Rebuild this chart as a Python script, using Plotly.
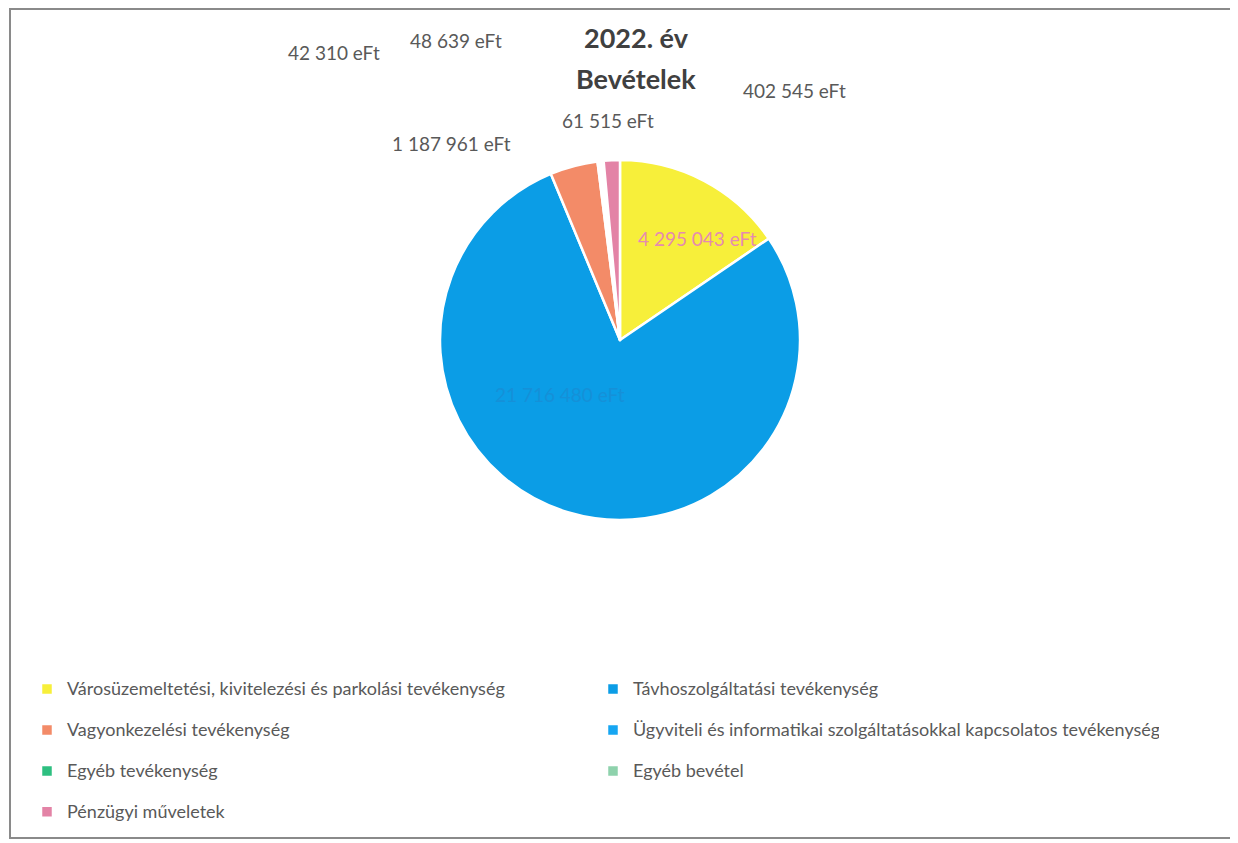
import plotly.graph_objects as go

# ---- data ----
categories = [
    "Városüzemeltetési, kivitelezési és parkolási tevékenység",
    "Távhoszolgáltatási tevékenység",
    "Vagyonkezelési tevékenység",
    "Ügyviteli és informatikai szolgáltatásokkal kapcsolatos tevékenység",
    "Egyéb tevékenység",
    "Egyéb bevétel",
    "Pénzügyi műveletek",
]
values_eft = [4295043, 21716480, 1187961, 42310, 48639, 61515, 402545]
colors = ["#F7EF3A", "#0B9DE6", "#F38B68", "#16A6F2", "#2EBF80", "#8ED2AC", "#E383A6"]
label_colors = ["#E68AB0", "#1590D8", "#595959", "#595959", "#595959", "#595959", "#595959"]
# label anchor positions (px in the reference page)
label_pos = [(697, 238), (560, 394), (451, 143), (334, 53), (456, 40), (608, 120), (794, 90)]

# page has an 8px body margin: the figure starts at (8, 8) in the window
OFF = 8
W, H = 1230, 855
FONT = "Lato, Open Sans, sans-serif"

def fx(px):
    return (px - OFF) / W

def fy(py):
    return 1 - (py - OFF) / H

def fmt(v):
    return f"{v:,}".replace(",", " ") + " eFt"

fig = go.Figure()

# pie geometry (reference page px): centre (620,340) r=180
cx, cy, r = 620, 340, 180
fig.add_trace(go.Pie(
    labels=[f'<span style="font-size:18px">{c}</span><br> ' for c in categories],
    values=values_eft,
    sort=False,
    direction="clockwise",
    rotation=0,
    marker=dict(colors=colors, line=dict(color="white", width=2.5)),
    textinfo="none",
    hoverinfo="label+value",
    domain=dict(x=[fx(cx - r), fx(cx + r)], y=[fy(cy + r), fy(cy - r)]),
    showlegend=True,
))

annotations = []
for v, col, (px, py) in zip(values_eft, label_colors, label_pos):
    annotations.append(dict(
        x=fx(px), y=fy(py), xref="paper", yref="paper",
        text=fmt(v), showarrow=False, xanchor="center", yanchor="middle",
        font=dict(family=FONT, size=19, color=col),
    ))

# title (two lines)
for txt, py in (("2022. év", 37), ("Bevételek", 78)):
    annotations.append(dict(
        x=fx(636), y=fy(py), xref="paper", yref="paper",
        text=f"<b>{txt}</b>", showarrow=False,
        xanchor="center", yanchor="middle",
        font=dict(family=FONT, size=27, color="#404040"),
    ))

fig.update_layout(
    width=W, height=H,
    margin=dict(l=0, r=0, t=0, b=0),
    paper_bgcolor="white",
    plot_bgcolor="white",
    annotations=annotations,
    legend=dict(
        orientation="h",
        x=fx(27), y=fy(673), xanchor="left", yanchor="top",
        entrywidth=521, entrywidthmode="pixels",
        valign="top",
        bgcolor="rgba(0,0,0,0)",
        font=dict(family=FONT, size=14.6, color="#595959"),
        traceorder="normal",
    ),
    shapes=[dict(
        type="rect", xref="paper", yref="paper",
        x0=fx(10), x1=fx(1236), y0=fy(838), y1=fy(9),
        line=dict(color="#8A8A8A", width=2),
    )],
)

fig.write_html("out.html")
